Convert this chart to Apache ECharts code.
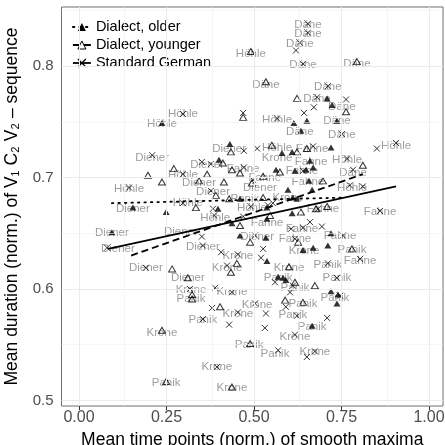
<!DOCTYPE html>
<html>
<head>
<meta charset="utf-8">
<script src="https://cdn.jsdelivr.net/npm/echarts@6/dist/echarts.min.js"></script>
<style>html,body{margin:0;padding:0;background:#fff}#c{width:445px;height:445px}</style>
</head>
<body>
<div id="c"></div>
<script>
// ---------- DATA ----------
const xTicks = [0, 0.25, 0.5, 0.75, 1];
const yTicks = [0.5, 0.6, 0.7, 0.8];
const xMinor = [0.125, 0.375, 0.625, 0.875];
const yMinor = [0.55, 0.65, 0.75, 0.85];
const groupNames = ['Dialect, older', 'Dialect, younger', 'Standard German'];

// word labels (grey text)
const labelWords = ['Däne','Däne','Däne','Höhle','Däne','Däne','Däne','Däne','Däne','Däne','Däne','Däne','Däne',
  'Höhle','Höhle','Höhle','Höhle','Höhle','Fahne','Diener','Krone','Diener','Fahne','Höhle','Fahne','Fahne','Däne',
  'Fahne','Höhle','Diener','Diener','Fahne','Diener','Höhle','Höhle','Diener','Panik','Krone','Höhle','Höhle','Diener',
  'Fahne','Fahne','Höhle','Fahne','Fahne','Diener','Diener','Fahne','Diener','Fahne','Diener','Diener','Krone','Panik',
  'Krone','Fahne','Panik','Krone','Diener','Krone','Panik','Panik','Diener','Panik','Krone','Krone','Panik','Panik',
  'Krone','Panik','Krone','Panik','Panik','Panik','Krone','Krone','Panik','Panik','Krone','Krone','Panik','Krone'];
const labelX = [.654,.654,.631,.491,.640,.794,.534,.711,.680,.751,.737,.631,.751,
  .297,.237,.566,.906,.566,.666,.429,.566,.209,.663,.766,.469,.637,.783,
  .531,.297,.366,.343,.654,.517,.780,.143,.383,.474,.597,.311,.494,.154,
  .697,.860,.389,.537,.637,.094,.291,.746,.509,.617,.111,.354,.643,.780,
  .454,.803,.711,.423,.191,.600,.737,.569,.311,.617,.320,.437,.731,.320,
  .509,.640,.454,.611,.354,.666,.237,.617,.486,.560,.674,.394,.249,.437];
const labelY = [.837,.829,.820,.811,.801,.802,.783,.781,.771,.763,.751,.741,.738,
  .757,.748,.752,.728,.727,.726,.726,.718,.718,.714,.716,.708,.706,.704,
  .700,.702,.711,.695,.696,.691,.691,.690,.687,.681,.682,.677,.673,.672,
  .672,.669,.664,.659,.654,.650,.651,.648,.647,.645,.636,.638,.634,.635,
  .630,.625,.622,.619,.619,.619,.610,.610,.610,.601,.599,.597,.592,.591,
  .586,.587,.578,.577,.572,.566,.561,.557,.550,.542,.544,.530,.516,.511];

// Dialect, older (filled triangles)
const olderPts = [[.723,.765],[.709,.771],[.614,.749],[.651,.751],[.737,.751],[.634,.742],[.237,.749],[.720,.727],
  [.580,.722],[.609,.723],[.660,.715],[.431,.730],[.400,.716],[.563,.707],[.617,.706],[.649,.707],[.669,.709],
  [.657,.697],[.597,.689],[.666,.689],[.460,.681],[.611,.682],[.623,.681],[.537,.673],[.397,.672],[.154,.673],
  [.249,.669],[.609,.668],[.537,.663],[.437,.659],[.460,.648],[.720,.650],[.534,.646],[.094,.651],[.640,.635],
  [.669,.637],[.711,.639],[.537,.625],[.569,.611],[.583,.610],[.591,.608],[.720,.598],[.740,.595],[.737,.587],[.666,.567]];
// Dialect, younger (open triangles)
const youngerPts = [[.491,.813],[.794,.804],[.534,.786],[.623,.771],[.763,.759],[.469,.754],[.551,.729],[.651,.726],
  [.623,.723],[.434,.723],[.411,.713],[.437,.707],[.271,.708],[.197,.702],[.366,.703],[.237,.696],[.460,.704],
  [.574,.705],[.811,.711],[.526,.701],[.697,.697],[.494,.695],[.343,.697],[.414,.696],[.391,.684],[.429,.681],
  [.526,.682],[.334,.673],[.546,.666],[.677,.672],[.709,.674],[.634,.669],[.460,.657],[.489,.642],[.626,.642],
  [.780,.636],[.600,.620],[.451,.623],[.434,.615],[.266,.618],[.311,.610],[.323,.595],[.323,.591],[.617,.606],
  [.674,.603],[.589,.590],[.640,.588],[.403,.584],[.237,.563],[.489,.551],[.249,.517],[.437,.512]];
// Standard German (crosses)
const standardPts = [[.654,.838],[.654,.830],[.631,.821],[.620,.814],[.640,.802],[.711,.782],[.680,.772],[.763,.770],
  [.671,.763],[.643,.758],[.469,.758],[.297,.757],[.566,.753],[.751,.739],[.906,.731],[.851,.726],[.509,.726],
  [.669,.728],[.471,.724],[.209,.720],[.766,.717],[.351,.714],[.377,.712],[.471,.709],[.640,.706],[.783,.707],
  [.297,.703],[.497,.698],[.774,.693],[.811,.692],[.143,.691],[.377,.688],[.554,.677],[.540,.675],[.297,.677],
  [.383,.672],[.491,.674],[.683,.672],[.860,.670],[.386,.666],[.469,.665],[.606,.654],[.640,.655],[.694,.656],
  [.660,.660],[.754,.648],[.503,.648],[.617,.645],[.351,.647],[.080,.637],[.354,.639],[.406,.633],[.454,.631],
  [.526,.636],[.520,.628],[.803,.627],[.711,.623],[.191,.619],[.423,.621],[.737,.610],[.560,.606],[.611,.603],
  [.603,.597],[.389,.601],[.317,.600],[.437,.597],[.746,.594],[.503,.587],[.591,.584],[.380,.583],[.454,.579],
  [.534,.578],[.623,.576],[.709,.574],[.354,.573],[.429,.568],[.531,.565],[.617,.559],[.569,.545],[.674,.544],
  [.651,.539],[.394,.530]];

// fitted lines (end points)
const olderFit = [[.094,.677],[.760,.682]];
const youngerFit = [[.149,.630],[.811,.703]];
const standardFit = [[.083,.636],[.906,.692]];

// ---------- CHART ----------
const FONT = 'Liberation Sans, Arial, sans-serif';
const crossPath = 'path://M0,0L10,10M10,0L0,10';
const gridLines = [];
xTicks.forEach(v => gridLines.push({xAxis: v, lineStyle: {width: 1, color: '#ebebeb', type: 'solid'}}));
yTicks.forEach(v => gridLines.push({yAxis: v, lineStyle: {width: 1, color: '#ebebeb', type: 'solid'}}));
xMinor.forEach(v => gridLines.push({xAxis: v, lineStyle: {width: 0.6, color: '#f0f0f0', type: 'solid'}}));
yMinor.forEach(v => gridLines.push({yAxis: v, lineStyle: {width: 0.6, color: '#f0f0f0', type: 'solid'}}));

const lineStyles = {
  older: {color: '#000', width: 1.8, type: [1.5, 5], cap: 'round'},
  younger: {color: '#000', width: 1.8, type: [7, 4]},
  standard: {color: '#000', width: 1.8, type: 'solid'}
};

const chart = echarts.init(document.getElementById('c'), null, {renderer: 'canvas'});
chart.setOption({
  animation: false,
  backgroundColor: '#fff',
  textStyle: {fontFamily: FONT},
  grid: {left: 61.5, top: 7, right: 2, bottom: 39, containLabel: false, outerBoundsMode: 'none',
    show: true, borderColor: '#6e6e6e', borderWidth: 1, backgroundColor: 'transparent'},
  legend: {
    orient: 'vertical', left: 64, top: 8,
    padding: [11, 6, 5, 8],
    backgroundColor: '#fff',
    itemWidth: 18, itemHeight: 10, itemGap: 2,
    textStyle: {fontSize: 14.5, color: '#000', fontFamily: FONT, lineHeight: 16},
    selectedMode: false,
    data: [
      {name: groupNames[0], itemStyle: {color: '#000', borderWidth: 0}, lineStyle: lineStyles.older},
      {name: groupNames[1], itemStyle: {color: 'rgba(0,0,0,0)', borderColor: '#000', borderWidth: 1}, lineStyle: lineStyles.younger},
      {name: groupNames[2], itemStyle: {color: 'none', borderColor: '#000', borderWidth: 1.2}, lineStyle: lineStyles.standard}
    ]
  },
  xAxis: {
    type: 'value', min: -0.05, max: 1.04,
    name: 'Mean time points (norm.) of smooth maxima', nameLocation: 'middle', nameGap: 19,
    nameTextStyle: {fontSize: 17.5, color: '#000', fontFamily: FONT},
    axisLine: {show: false},
    axisTick: {show: true, length: 4, lineStyle: {color: '#333'}, customValues: xTicks},
    axisLabel: {show: true, customValues: xTicks, fontSize: 16, color: '#4d4d4d', margin: 4, fontFamily: FONT,
      formatter: v => v.toFixed(2)},
    splitLine: {show: false}
  },
  yAxis: {
    type: 'value', min: 0.495, max: 0.853,
    name: 'Mean duration (norm.) of V\u2081 C\u2082 V\u2082 \u2013 sequence', nameLocation: 'middle', nameGap: 40,
    nameTextStyle: {fontSize: 17.5, color: '#000', fontFamily: FONT},
    axisLine: {show: false},
    axisTick: {show: true, length: 4, lineStyle: {color: '#333'}, customValues: yTicks},
    axisLabel: {show: true, customValues: yTicks, fontSize: 15, color: '#4d4d4d', margin: 8, fontFamily: FONT,
      formatter: v => v.toFixed(1)},
    splitLine: {show: false}
  },
  series: [
    {name: groupNames[0], type: 'line', data: olderFit, symbol: 'triangle', showSymbol: false, z: 6,
      lineStyle: lineStyles.older, itemStyle: {color: '#000'}},
    {name: groupNames[1], type: 'line', data: youngerFit, symbol: 'triangle', showSymbol: false, z: 6,
      lineStyle: lineStyles.younger, itemStyle: {color: '#000'}},
    {name: groupNames[2], type: 'line', data: standardFit, symbol: crossPath, showSymbol: false, z: 6,
      lineStyle: lineStyles.standard, itemStyle: {color: '#000'}},
    {type: 'scatter', data: [], silent: true, z: 0,
      markLine: {silent: true, symbol: 'none', label: {show: false}, animation: false, data: gridLines}},
    {type: 'scatter', silent: true, z: 3, symbolSize: 1, itemStyle: {color: 'rgba(0,0,0,0)'},
      data: labelWords.map((w, i) => [labelX[i], labelY[i], w]),
      label: {show: true, position: 'inside', formatter: p => p.data[2], color: '#858585', fontSize: 11.5, fontFamily: FONT}},
    {name: groupNames[0], type: 'scatter', data: olderPts, symbol: 'triangle', symbolSize: [7, 6], z: 4,
      itemStyle: {color: '#000'}},
    {name: groupNames[1], type: 'scatter', data: youngerPts, symbol: 'triangle', symbolSize: [7, 6], z: 4,
      itemStyle: {color: 'rgba(0,0,0,0)', borderColor: '#000', borderWidth: 1}},
    {name: groupNames[2], type: 'scatter', data: standardPts, symbol: crossPath, symbolSize: 6, z: 4,
      itemStyle: {color: 'none', borderColor: '#000', borderWidth: 1}}
  ]
});
</script>
</body>
</html>
